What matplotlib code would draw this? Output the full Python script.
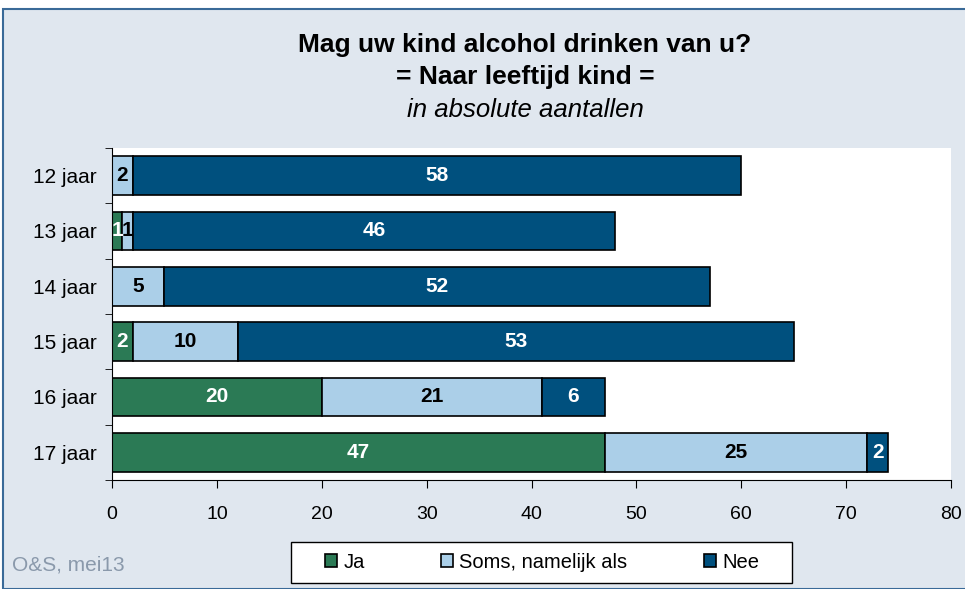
import matplotlib.pyplot as plt
from matplotlib.patches import Rectangle

plt.rcParams['font.family'] = ['Liberation Sans', 'DejaVu Sans']

# data
ages = ['12 jaar', '13 jaar', '14 jaar', '15 jaar', '16 jaar', '17 jaar']
ja = [0, 1, 0, 2, 20, 47]
soms = [2, 1, 5, 10, 21, 25]
nee = [58, 46, 52, 53, 6, 2]
series = ['Ja', 'Soms, namelijk als', 'Nee']
colors = ['#2b7a55', '#abcfe8', '#00507e']
text_colors = ['white', 'black', 'white']

W, H = 965, 589
fig = plt.figure(figsize=(W / 100, H / 100), dpi=100)
fig.patch.set_facecolor('white')
# outer light panel with border
fig.patches.append(Rectangle((3 / W, 0), 1, 1 - 9 / H, transform=fig.transFigure,
                             facecolor='#e0e7ef', edgecolor='#3a6a98', linewidth=1.5, zorder=-1))

ax = fig.add_axes([112 / W, 1 - 480 / H, (951 - 112) / W, (480 - 148) / H])
ax.set_facecolor('white')

pos = list(range(len(ages)))
left = [0] * len(ages)
for vals, col, tcol, name in zip([ja, soms, nee], colors, text_colors, series):
    bars = ax.barh(pos, vals, left=left, height=0.7, color=col, edgecolor='black',
                   linewidth=1.2, label=name)
    for b, v in zip(bars, vals):
        if v > 0:
            ax.text(b.get_x() + b.get_width() / 2, b.get_y() + b.get_height() / 2, str(v),
                    ha='center', va='center', color=tcol, fontsize=15, fontweight='bold')
    left = [l + v for l, v in zip(left, vals)]

ax.set_xlim(0, 80)
ax.set_ylim(len(ages) - 0.5, -0.5)
ax.set_xticks(range(0, 81, 10))
ax.set_yticks(pos)
ax.set_yticklabels(ages)
ax.set_yticks([p + 0.5 for p in range(-1, len(ages))], minor=True)
ax.tick_params(axis='y', which='major', length=0, pad=11, labelsize=15)
ax.tick_params(axis='y', which='minor', length=5, direction='out')
ax.tick_params(axis='x', length=6, direction='out', pad=13, labelsize=14)
for s in ['top', 'right']:
    ax.spines[s].set_visible(False)

tx = 525 / W
fig.text(tx, 1 - 45 / H, 'Mag uw kind alcohol drinken van u?', ha='center', va='center',
         fontsize=19, fontweight='bold')
fig.text(tx, 1 - 77 / H, '= Naar leeftijd kind =', ha='center', va='center',
         fontsize=19, fontweight='bold')
fig.text(tx, 1 - 110 / H, 'in absolute aantallen', ha='center', va='center',
         fontsize=18.5, style='italic')
fig.text(12 / W, 1 - 565 / H, 'O&S, mei13', ha='left', va='center', fontsize=15,
         color='#8a99ab')

# legend box
fig.patches.append(Rectangle((291 / W, 1 - 583 / H), (792 - 291) / W, (583 - 542) / H,
                             transform=fig.transFigure, facecolor='white',
                             edgecolor='black', linewidth=1.0))
fig.legend(loc='center', bbox_to_anchor=(542 / W, 1 - 562 / H), ncol=3,
           fontsize=14.5, frameon=False, handlelength=0.6, handleheight=0.6,
           columnspacing=3.8, handletextpad=0.3)

fig.savefig('out.png', dpi=100)
